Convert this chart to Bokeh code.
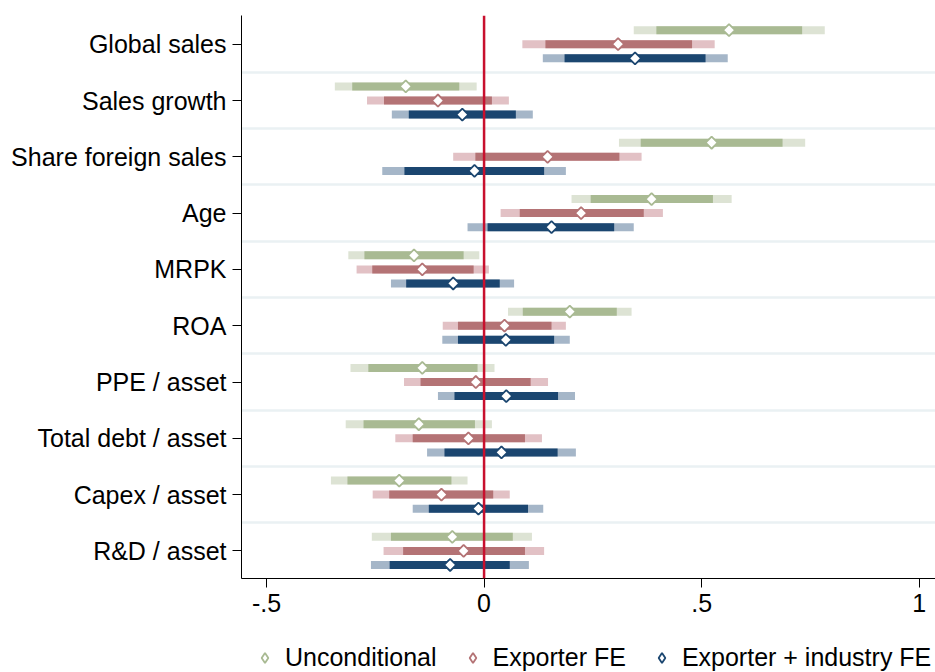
import math
from bokeh.plotting import figure
from bokeh.layouts import column
from bokeh.models import Span, FixedTicker, Legend, LegendItem, ColumnDataSource
from bokeh.embed import file_html
from bokeh.resources import INLINE

categories = ["Global sales", "Sales growth", "Share foreign sales", "Age", "MRPK",
              "ROA", "PPE / asset", "Total debt / asset", "Capex / asset", "R&D / asset"]

series_names = ["Unconditional", "Exporter FE", "Exporter + industry FE"]

uncond_point = [0.563, -0.180, 0.523, 0.385, -0.161, 0.197, -0.142, -0.150, -0.195, -0.073]
uncond_lo95 = [0.344, -0.343, 0.310, 0.201, -0.312, 0.055, -0.307, -0.318, -0.352, -0.258]
uncond_hi95 = [0.783, -0.017, 0.738, 0.569, -0.011, 0.339, 0.024, 0.018, -0.038, 0.110]
uncond_lo90 = [0.396, -0.303, 0.360, 0.245, -0.275, 0.089, -0.266, -0.277, -0.314, -0.214]
uncond_hi90 = [0.731, -0.057, 0.686, 0.526, -0.047, 0.305, -0.015, -0.021, -0.075, 0.066]

expfe_point = [0.308, -0.106, 0.146, 0.223, -0.142, 0.047, -0.019, -0.036, -0.098, -0.047]
expfe_lo95 = [0.088, -0.269, -0.071, 0.038, -0.293, -0.095, -0.184, -0.204, -0.256, -0.231]
expfe_hi95 = [0.530, 0.057, 0.362, 0.411, 0.011, 0.188, 0.147, 0.133, 0.059, 0.138]
expfe_lo90 = [0.141, -0.230, -0.020, 0.082, -0.257, -0.060, -0.146, -0.164, -0.218, -0.186]
expfe_hi90 = [0.478, 0.018, 0.311, 0.367, -0.024, 0.155, 0.107, 0.094, 0.021, 0.094]

expind_point = [0.347, -0.050, -0.022, 0.155, -0.071, 0.050, 0.051, 0.040, -0.013, -0.078]
expind_lo95 = [0.135, -0.212, -0.234, -0.038, -0.214, -0.096, -0.106, -0.131, -0.164, -0.260]
expind_hi95 = [0.560, 0.112, 0.188, 0.344, 0.069, 0.197, 0.209, 0.211, 0.136, 0.103]
expind_lo90 = [0.185, -0.173, -0.183, 0.008, -0.179, -0.060, -0.068, -0.091, -0.127, -0.217]
expind_hi90 = [0.509, 0.073, 0.138, 0.299, 0.036, 0.161, 0.170, 0.169, 0.101, 0.059]

x_ticks = [-0.5, 0, 0.5, 1]
x_tick_labels = ["-.5", "0", ".5", "1"]

dark_colors = ["#A9BA93", "#B47375", "#1B4670"]
light_colors = ["#DDE3D4", "#E2C1C5", "#A5B6C8"]

series = [
    (uncond_point, uncond_lo95, uncond_hi95, uncond_lo90, uncond_hi90),
    (expfe_point, expfe_lo95, expfe_hi95, expfe_lo90, expfe_hi90),
    (expind_point, expind_lo95, expind_hi95, expind_lo90, expind_hi90),
]
offsets = [0.25, 0.0, -0.25]

n = len(categories)
ypos = [n - 1 - i for i in range(n)]

FONT = "Liberation Sans"
FSIZE = "25px"

p = figure(width=935, height=630, x_range=(-0.5575, 1.0375), y_range=(-0.49, n - 0.49),
           output_backend="svg", toolbar_location=None,
           min_border_left=241, min_border_top=15, min_border_right=0, min_border_bottom=52)
p.outline_line_color = None
p.background_fill_color = "white"

p.xgrid.visible = False
p.ygrid.ticker = FixedTicker(ticks=[y + 0.5 for y in ypos[1:]])
p.ygrid.grid_line_color = "#EAF1F3"
p.ygrid.grid_line_width = 2.5

sources = []
for k, (pt, lo95, hi95, lo90, hi90) in enumerate(series):
    ys = [y + offsets[k] for y in ypos]
    src = ColumnDataSource(dict(y=ys, pt=pt, lo95=lo95, hi95=hi95, lo90=lo90, hi90=hi90))
    sources.append(src)
    p.hbar(y="y", left="lo95", right="hi95", height=0.142, source=src,
           fill_color=light_colors[k], line_color=None)
    p.hbar(y="y", left="lo90", right="hi90", height=0.142, source=src,
           fill_color=dark_colors[k], line_color=None)
    p.scatter(x="pt", y="y", source=src, marker="square", angle=math.pi / 4, size=8.5,
              fill_color="white", line_color=dark_colors[k], line_width=1.8)

p.add_layout(Span(location=0, dimension="height", line_color="#C8102E", line_width=2.5))

for ax in (p.xaxis[0], p.yaxis[0]):
    ax.axis_label = None
    ax.axis_line_color = "black"
    ax.axis_line_width = 1
    ax.major_tick_line_color = "black"
    ax.major_tick_in = 0
    ax.major_tick_out = 9
    ax.minor_tick_line_color = None
    ax.major_label_text_font = FONT
    ax.major_label_text_font_size = FSIZE
    ax.major_label_text_color = "black"
    ax.major_label_standoff = 6

p.xaxis.ticker = FixedTicker(ticks=x_ticks)
p.xaxis.major_label_overrides = {t: l for t, l in zip(x_ticks, x_tick_labels)}
p.yaxis.ticker = FixedTicker(ticks=ypos)
p.yaxis.major_label_overrides = {y: c for y, c in zip(ypos, categories)}

# legend strip below the chart (its view range keeps the proxy markers out of sight)
lf = figure(width=935, height=42, x_range=(2, 3), y_range=(20, 21),
            output_backend="svg", toolbar_location=None,
            x_axis_location=None, y_axis_location=None,
            min_border_left=0, min_border_right=0, min_border_top=0, min_border_bottom=0)
lf.outline_line_color = None
lf.grid.visible = False
legend_renderers = []
for k in range(len(series_names)):
    r = lf.scatter(x="pt", y="y", source=sources[k], marker="diamond", size=10,
                   fill_color="white", line_color=dark_colors[k], line_width=1.8)
    legend_renderers.append(r)

legend = Legend(items=[LegendItem(label=nm, renderers=[r])
                       for nm, r in zip(series_names, legend_renderers)],
                orientation="horizontal", location=(11, 0),
                border_line_color=None, background_fill_alpha=0,
                label_text_font=FONT, label_text_font_size=FSIZE, label_text_color="black",
                glyph_width=25, glyph_height=25, label_standoff=8, spacing=23,
                padding=0, margin=0)
lf.add_layout(legend, "center")

layout = column(p, lf, spacing=0)
open("out.html", "w").write(file_html(layout, INLINE))
